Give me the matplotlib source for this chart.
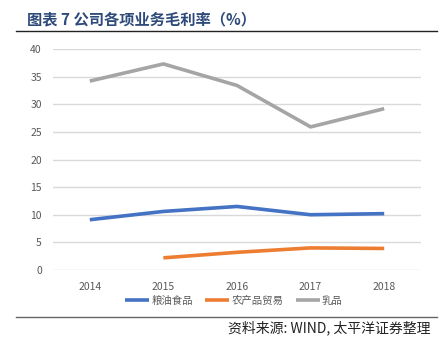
import matplotlib
matplotlib.use("Agg")
import matplotlib.pyplot as plt
import numpy as np

plt.rcParams['font.family'] = ['Noto Sans CJK SC', 'DejaVu Sans']

years = ['2014', '2015', '2016', '2017', '2018']
grain_oil = [9.1, 10.6, 11.5, 10.0, 10.2]
agri_trade = [np.nan, 2.2, 3.2, 4.0, 3.9]
dairy = [34.2, 37.3, 33.4, 25.9, 29.2]
series_names = ['粮油食品', '农产品贸易', '乳品']
yticks = [0, 5, 10, 15, 20, 25, 30, 35, 40]

fig = plt.figure(figsize=(4.44, 3.46), dpi=100)
W, H = 444, 346
ax = fig.add_axes([53 / W, 1 - 270 / H, 368 / W, 221 / H])

x = np.arange(len(years))
colors = ['#4472C4', '#ED7D31', '#A5A5A5']
for vals, c, name in zip([grain_oil, agri_trade, dairy], colors, series_names):
    ax.plot(x, vals, color=c, lw=2.6, label=name, solid_capstyle='butt')

ax.set_xlim(-0.5, len(years) - 0.5)
ax.set_ylim(0, 40)
ax.set_yticks(yticks)
ax.set_yticklabels([str(v) for v in yticks])
ax.set_xticks(x)
ax.set_xticklabels(years)
ax.yaxis.grid(True, color='#D9D9D9', lw=1)
ax.set_axisbelow(True)
for s in ax.spines.values():
    s.set_visible(False)
ax.tick_params(axis='both', length=0, labelsize=7.5, colors='#595959')
ax.tick_params(axis='y', pad=8)
ax.tick_params(axis='x', pad=9)

leg = fig.legend(loc='center', bbox_to_anchor=(234 / W, 1 - 301 / H), ncol=3,
                 frameon=False, fontsize=7.5, handlelength=2.3, handletextpad=0.2,
                 columnspacing=1.2)
for t in leg.get_texts():
    t.set_color('#595959')

fig.text(27 / W, 1 - 19 / H, '图表 7 公司各项业务毛利率（%）', fontsize=11, fontweight='bold',
         color='#2E4A7A', va='center', ha='left')
fig.add_artist(plt.Line2D([16 / W, 437 / W], [1 - 31 / H, 1 - 31 / H], color='#222222', lw=1))
fig.add_artist(plt.Line2D([16 / W, 437 / W], [1 - 317 / H, 1 - 317 / H], color='#666666', lw=1))
fig.text(430 / W, 1 - 328 / H, '资料来源: WIND, 太平洋证券整理', fontsize=10, style='italic',
         color='#222222', va='center', ha='right')

fig.savefig('out.png', dpi=100)
